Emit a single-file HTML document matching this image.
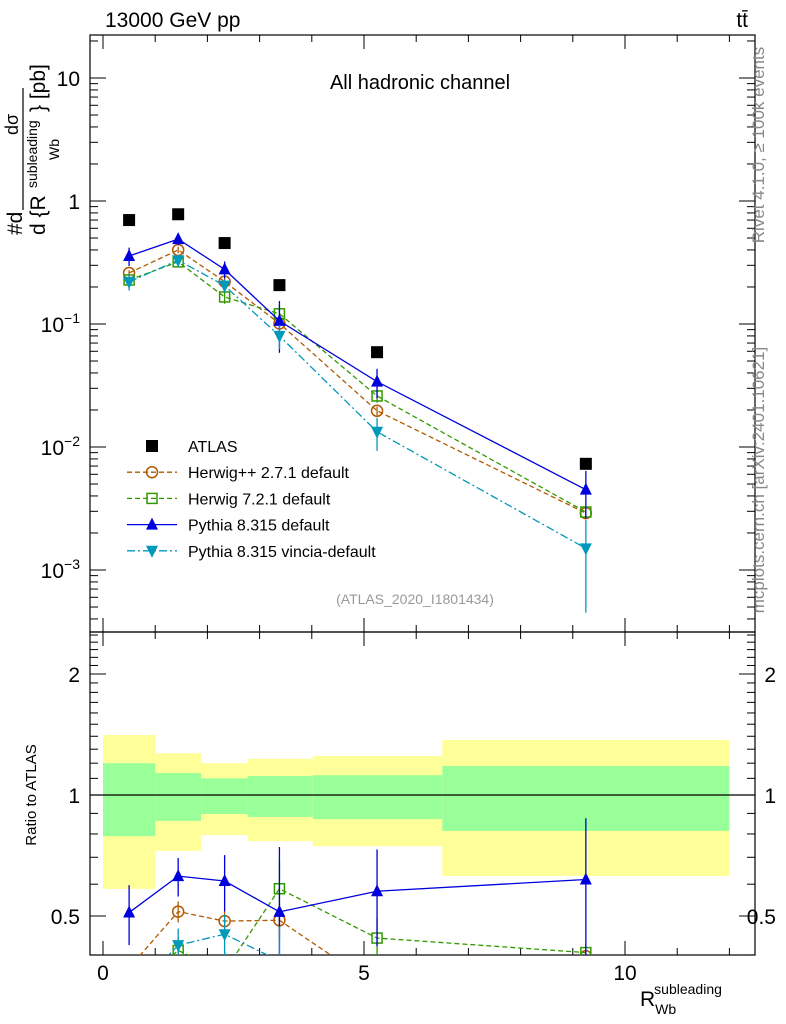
<!DOCTYPE html>
<html><head><meta charset="utf-8"><style>
body{margin:0;background:#fff;overflow:hidden;}
svg{display:block;font-family:"Liberation Sans",sans-serif;}
</style></head><body>
<svg id="c" width="786" height="1024"></svg>
<script>
const xCenters=[0.5,1.44,2.33,3.38,5.25,9.25];
const binEdges=[0,1.0,1.88,2.77,4.02,6.5,12.0];
const atlas=[0.70,0.78,0.455,0.207,0.059,0.0073];
const herwigpp=[0.26,0.40,0.221,0.101,0.0197,0.0029];
const herwig7=[0.228,0.32,0.166,0.121,0.026,0.00296];
const pythia=[0.357,0.49,0.278,0.106,0.034,0.0045];
const vincia=[0.22,0.33,0.205,0.08,0.0133,0.0015];
const pythiaErr=[0.17,0.11,0.16,0.45,0.27,0.42];
const herwigppErr=[0.05,0.06,0.06,0.1,0.08,0.06];
const herwig7Err=[0.07,0.08,0.12,0.17,0.12,0.05];
const vinciaErr=[0.15,0.1,0.12,0.22,0.3,0.7];
const yellowUp=[1.41,1.27,1.20,1.23,1.25,1.37];
const yellowDn=[0.584,0.726,0.795,0.768,0.746,0.629];
const greenUp=[1.20,1.134,1.10,1.115,1.12,1.18];
const greenDn=[0.79,0.862,0.897,0.882,0.871,0.814];
const xTicks=[0,5,10];

const L=90,R=755,T=35,MB=632,RB=955;
const X=v=>103+v*52.2;
const Y=v=>78+(1-Math.log10(v))*123;
const RY=v=>795-Math.log10(v)*402;
const svg=document.getElementById('c');
const NS='http://www.w3.org/2000/svg';
function el(t,a,p){const e=document.createElementNS(NS,t);for(const k in a)e.setAttribute(k,a[k]);(p||svg).appendChild(e);return e;}
function txt(s,a,p){const e=el('text',a,p);e.textContent=s;return e;}

const defs=el('defs',{});
const c1=el('clipPath',{id:'cm'},defs);el('rect',{x:L,y:T,width:R-L,height:MB-T},c1);
const c2=el('clipPath',{id:'cr'},defs);el('rect',{x:L,y:MB,width:R-L,height:RB-MB},c2);

const bands=el('g',{'clip-path':'url(#cr)'});


for(let i=0;i<6;i++){
 const x0=X(binEdges[i]),x1=X(binEdges[i+1]);
 const y=el('rect',{x:x0,y:RY(yellowUp[i]),width:x1-x0,height:RY(yellowDn[i])-RY(yellowUp[i]),fill:'#ffff99'},bands);
 
 
 const g=el('rect',{x:x0,y:RY(greenUp[i]),width:x1-x0,height:RY(greenDn[i])-RY(greenUp[i]),fill:'#99ff99'},bands);
 
 
}
el('line',{x1:L,x2:R,y1:RY(1),y2:RY(1),stroke:'#000','stroke-width':1.2});

el('rect',{x:L,y:T,width:R-L,height:MB-T,fill:'none',stroke:'#000','stroke-width':1.2});
el('rect',{x:L,y:MB,width:R-L,height:RB-MB,fill:'none',stroke:'#000','stroke-width':1.2});

for(let v=0;v<=12;v++){
 const x=X(v),maj=v%5==0,h=maj?14:7;
 for(const [y0,d] of [[T,1],[MB,-1],[MB,1],[RB,-1]]) el('line',{x1:x,x2:x,y1:y0,y2:y0+d*h,stroke:'#000'});
}
xTicks.forEach(v=>{const t=txt(v,{x:X(v),y:980,'font-size':21,'text-anchor':'middle'});
 });
for(let d=-4;d<=1;d++)for(let m=1;m<10;m++){const v=m*Math.pow(10,d);const y=Y(v);if(y<T||y>MB)continue;
 const h=m==1?16:8;el('line',{x1:L,x2:L+h,y1:y,y2:y,stroke:'#000'});el('line',{x1:R,x2:R-h,y1:y,y2:y,stroke:'#000'});}
const yl=[['10',10],['1',1]];
yl.forEach(([s,v])=>{const t=txt(s,{x:80,y:Y(v)+8,'font-size':21,'text-anchor':'end'});});
[[-1,0.1],[-2,0.01],[-3,0.001]].forEach(([e,v])=>{const t=el('text',{x:80,y:Y(v)+8,'font-size':21,'text-anchor':'end'});
 t.innerHTML='10<tspan dy="-9" font-size="14">'+(e==-1?'−1':e==-2?'−2':'−3')+'</tspan>';
 });
for(let v=0.4;v<=2.55;v+=0.1){const vv=Math.round(v*10)/10;const y=RY(vv);if(y<MB||y>RB)continue;
 const maj=(vv==0.5||vv==1||vv==2);const h=maj?16:8;
 el('line',{x1:L,x2:L+h,y1:y,y2:y,stroke:'#000'});el('line',{x1:R,x2:R-h,y1:y,y2:y,stroke:'#000'});}
[['2',2],['1',1],['0.5',0.5]].forEach(([s,v])=>{
 let t=txt(s,{x:80,y:RY(v)+8,'font-size':21,'text-anchor':'end'});
 t=txt(s,{x:776,y:RY(v)+8,'font-size':21,'text-anchor':'end'});});

function marker(g,type,x,y,color){
 const s=6;
 if(type=='sq')el('rect',{x:x-s,y:y-s,width:2*s,height:2*s,fill:'#000'},g);
 else if(type=='osq')el('rect',{x:x-5,y:y-5,width:10,height:10,fill:'none',stroke:color,'stroke-width':1.5},g);
 else if(type=='oc')el('circle',{cx:x,cy:y,r:5.5,fill:'none',stroke:color,'stroke-width':1.5},g);
 else if(type=='tu')el('polygon',{points:`${x},${y-7} ${x-6},${y+5} ${x+6},${y+5}`,fill:color},g);
 else if(type=='td')el('polygon',{points:`${x},${y+7} ${x-6},${y-5} ${x+6},${y-5}`,fill:color},g);
}
const series=[
 {n:'herwigpp',v:herwigpp,e:herwigppErr,c:'#b35900',m:'oc',d:'5,3',lab:'Herwig++ 2.7.1 default'},
 {n:'herwig7',v:herwig7,e:herwig7Err,c:'#339900',m:'osq',d:'5,3',lab:'Herwig 7.2.1 default'},
 {n:'pythia',v:pythia,e:pythiaErr,c:'#0000dd',m:'tu',d:'',lab:'Pythia 8.315 default'},
 {n:'vincia',v:vincia,e:vinciaErr,c:'#0099bb',m:'td',d:'8,3,2,3',lab:'Pythia 8.315 vincia-default'}];
function drawSeries(clip,yf,vals,s,ratio){
 const g=el('g',{'clip-path':clip});
 
 
 const pts=vals.map((v,i)=>X(xCenters[i])+','+yf(v)).join(' ');
 el('polyline',{points:pts,fill:'none',stroke:s.c,'stroke-width':1.3,'stroke-dasharray':s.d},g);
 vals.forEach((v,i)=>{const x=X(xCenters[i]);
  el('line',{x1:x,x2:x,y1:yf(v*(1+s.e[i])),y2:yf(Math.max(v*(1-s.e[i]),1e-9)),stroke:s.c,'stroke-width':1.3},g);
  marker(g,s.m,x,yf(v),s.c);});
}
series.forEach(s=>{
 drawSeries('url(#cm)',Y,s.v,s,false);
 drawSeries('url(#cr)',RY,s.v.map((v,i)=>v/atlas[i]),s,true);
});
const ga=el('g',{});


atlas.forEach((v,i)=>marker(ga,'sq',X(xCenters[i]),Y(v)));

const lg=el('g',{});


const ents=[{c:'#000',m:'sq',d:null,lab:'ATLAS'}].concat(series);
ents.forEach((s,i)=>{const y=446+i*26.2;
 if(s.d!==null)el('line',{x1:127,x2:177,y1:y,y2:y,stroke:s.c,'stroke-width':1.3,'stroke-dasharray':s.d},lg);
 marker(lg,s.m,152,y,s.c);
 const t=txt(s.lab,{x:188,y:y+6,'font-size':16},lg);
 });

let t;
t=txt('13000 GeV pp',{x:105,y:27,'font-size':21});
t=txt('tt̄',{x:748,y:27,'font-size':21,'text-anchor':'end'});
t=txt('All hadronic channel',{x:420,y:89,'font-size':20,'text-anchor':'middle'});
t=txt('(ATLAS_2020_I1801434)',{x:415,y:604,'font-size':14,fill:'#999','text-anchor':'middle'});
t=txt('Rivet 4.1.0, ≥ 100k events',{x:0,y:0,'font-size':17,fill:'#888','text-anchor':'middle',transform:'translate(764,145) rotate(-90)'});
t=txt('mcplots.cern.ch [arXiv:2401.10621]',{x:0,y:0,'font-size':17,fill:'#888','text-anchor':'middle',transform:'translate(764,480) rotate(-90)'});
t=txt('Ratio to ATLAS',{x:0,y:0,'font-size':15,'text-anchor':'middle',transform:'translate(36,795) rotate(-90)'});
const yt=el('g',{});


txt('#d',{x:0,y:0,'font-size':21,transform:'translate(22,235) rotate(-90)'},yt);
el('line',{x1:23,x2:23,y1:88,y2:210,stroke:'#000','stroke-width':1.2},yt);
txt('dσ',{x:0,y:0,'font-size':18,transform:'translate(18,135) rotate(-90)'},yt);
txt('d {R',{x:0,y:0,'font-size':21,transform:'translate(45,235) rotate(-90)'},yt);
txt('subleading',{x:0,y:0,'font-size':14,transform:'translate(37,188) rotate(-90)'},yt);
txt('Wb',{x:0,y:0,'font-size':14,transform:'translate(59,160) rotate(-90)'},yt);
txt('} [pb]',{x:0,y:0,'font-size':21,transform:'translate(45,112) rotate(-90)'},yt);
const xt=el('text',{x:640,y:1006,'font-size':21});
xt.innerHTML='R<tspan dy="8" font-size="14">Wb</tspan><tspan dx="-22" dy="-20" font-size="14">subleading</tspan>';


</script>
</body></html>
